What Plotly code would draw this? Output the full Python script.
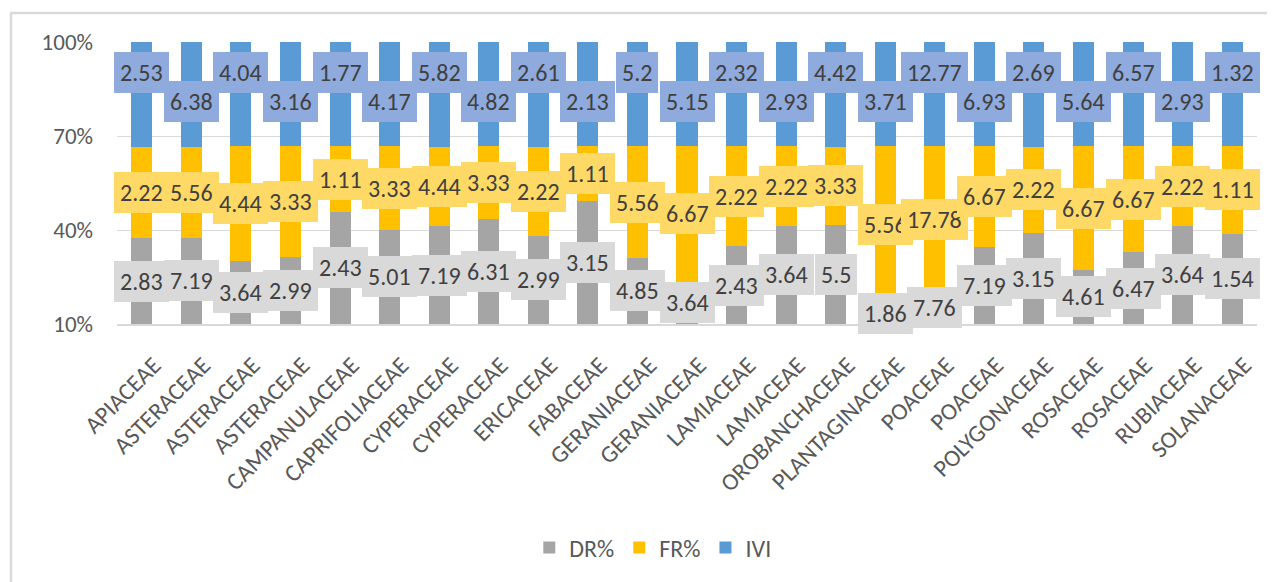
import plotly.graph_objects as go

# Families (x categories, duplicates kept as separate bars)
families = [
    "APIACEAE", "ASTERACEAE", "ASTERACEAE", "ASTERACEAE", "CAMPANULACEAE",
    "CAPRIFOLIACEAE", "CYPERACEAE", "CYPERACEAE", "ERICACEAE", "FABACEAE",
    "GERANIACEAE", "GERANIACEAE", "LAMIACEAE", "LAMIACEAE", "OROBANCHACEAE",
    "PLANTAGINACEAE", "POACEAE", "POACEAE", "POLYGONACEAE", "ROSACEAE",
    "ROSACEAE", "RUBIACEAE", "SOLANACEAE",
]
dr = [2.83, 7.19, 3.64, 2.99, 2.43, 5.01, 7.19, 6.31, 2.99, 3.15, 4.85, 3.64,
      2.43, 3.64, 5.5, 1.86, 7.76, 7.19, 3.15, 4.61, 6.47, 3.64, 1.54]
fr = [2.22, 5.56, 4.44, 3.33, 1.11, 3.33, 4.44, 3.33, 2.22, 1.11, 5.56, 6.67,
      2.22, 2.22, 3.33, 5.56, 17.78, 6.67, 2.22, 6.67, 6.67, 2.22, 1.11]
ivi = [2.53, 6.38, 4.04, 3.16, 1.77, 4.17, 5.82, 4.82, 2.61, 2.13, 5.2, 5.15,
       2.32, 2.93, 4.42, 3.71, 12.77, 6.93, 2.69, 5.64, 6.57, 2.93, 1.32]

y_ticks = [10, 40, 70, 100]
Y_MIN, Y_MAX = 10, 100

FONT = "Calibri, Carlito, Noto Sans, sans-serif"
TXT = "#595959"
LBL_TXT = "#404040"

series = [
    ("DR%", dr, "#A5A5A5", "#D9D9D9"),
    ("FR%", fr, "#FFC000", "#FFD966"),
    ("IVI", ivi, "#5B9BD5", "#8FAADC"),
]

x = list(range(len(families)))

fig = go.Figure()
for name, vals, col, _ in series:
    fig.add_trace(go.Bar(x=x, y=vals, name=name, marker_color=col,
                         marker_line_width=0))

# data labels: centred on the visible part of each stacked segment (percent-normalised)
annotations = []
for k, (name, vals, col, box) in enumerate(series):
    for i in x:
        total = dr[i] + fr[i] + ivi[i]
        lo = sum(s[1][i] for s in series[:k]) / total * 100
        hi = lo + vals[i] / total * 100
        lo_v, hi_v = max(lo, Y_MIN), min(hi, Y_MAX)
        yc = (lo_v + hi_v) / 2
        shift = 0
        if name == "IVI":
            # Excel staggers the IVI labels so they don't collide
            shift = 22 if i % 2 == 0 else -7
        annotations.append(dict(
            x=i, y=yc, xref="x", yref="y", text=f"{vals[i]:g}",
            showarrow=False, yshift=shift,
            font=dict(family=FONT, size=24, color=LBL_TXT),
            bgcolor=box, borderpad=6, borderwidth=0,
        ))

fig.update_layout(
    barmode="stack",
    barnorm="percent",
    bargap=0.576,
    width=1275, height=582,
    margin=dict(l=109, r=26, t=34, b=266),
    paper_bgcolor="white",
    plot_bgcolor="white",
    font=dict(family=FONT, color=TXT),
    showlegend=True,
    legend=dict(orientation="h", x=0.47, xanchor="center", y=-0.794,
                yanchor="middle", font=dict(size=24, color=TXT),
                itemwidth=30, traceorder="normal"),
    annotations=annotations,
    shapes=[dict(type="rect", xref="paper", yref="paper",
                 x0=-0.093, x1=1.2, y0=-1.2, y1=1.103,
                 line=dict(color="#D9D9D9", width=2.5), layer="below")],
)
fig.update_xaxes(
    tickmode="array", tickvals=x, ticktext=families, tickangle=-45,
    tickfont=dict(size=24, color=TXT), showgrid=False,
    showline=True, linecolor="#D9D9D9", linewidth=1.5,
    range=[-0.5, len(families) - 0.5],
    ticklabelshift=12, ticklabelstandoff=16,
)
fig.update_yaxes(
    range=[Y_MIN, Y_MAX], tickmode="array", tickvals=y_ticks,
    ticktext=[f"{t}%" for t in y_ticks],
    tickfont=dict(size=23, color=TXT), showgrid=True,
    gridcolor="#D9D9D9", gridwidth=1.2, zeroline=False,
    ticklabelstandoff=23,
)

fig.write_html("out.html")
